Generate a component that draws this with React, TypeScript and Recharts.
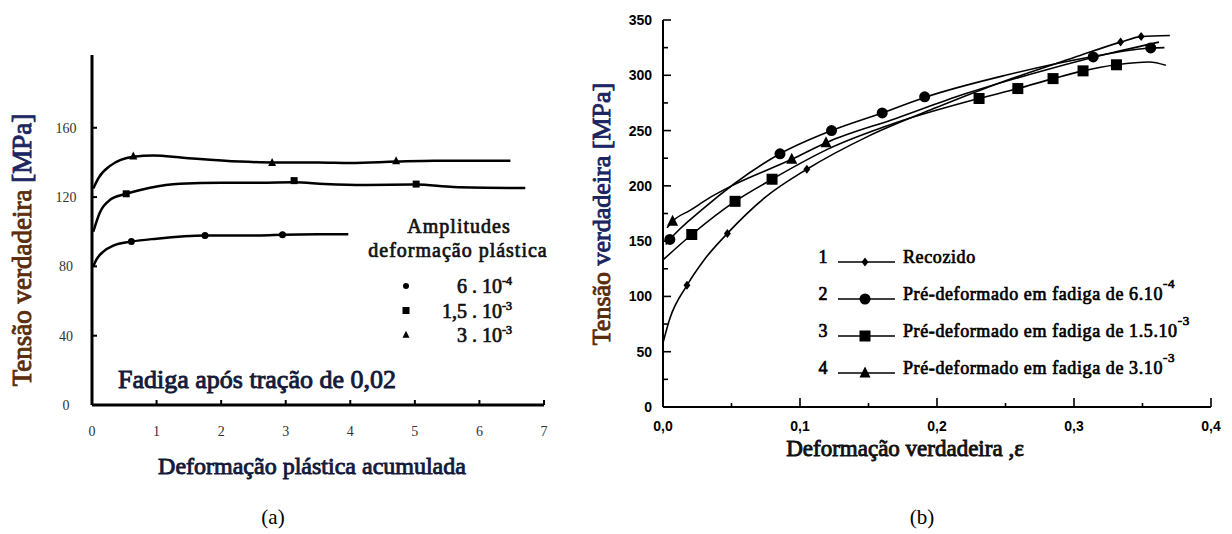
import { ComposedChart, Line, Scatter, XAxis, YAxis } from 'recharts';

const SERIF = "'Liberation Serif', 'Times New Roman', serif";
const SANS = "'Liberation Sans', Arial, sans-serif";

// ---- painel (a): fadiga após tração ----
const aXTicks = [0, 1, 2, 3, 4, 5, 6, 7];
const aYTicks = [0, 40, 80, 120, 160];

const aCurve6e4 = [
  { x: 0.02, y: 80 }, { x: 0.07, y: 84 }, { x: 0.17, y: 88.4 }, { x: 0.33, y: 92 },
  { x: 0.61, y: 94.3 }, { x: 1.0, y: 96 }, { x: 1.75, y: 97.8 }, { x: 2.4, y: 97.8 },
  { x: 2.95, y: 98.2 }, { x: 3.5, y: 98.5 }, { x: 3.97, y: 98.6 },
];
const aCurve15e3 = [
  { x: 0.02, y: 100 }, { x: 0.12, y: 111 }, { x: 0.28, y: 118.4 }, { x: 0.53, y: 121.9 },
  { x: 0.9, y: 125.4 }, { x: 1.36, y: 127.7 }, { x: 2.0, y: 128.3 }, { x: 2.6, y: 128.3 },
  { x: 3.13, y: 128.5 }, { x: 3.6, y: 127.6 }, { x: 4.2, y: 127 }, { x: 5.02, y: 127.2 },
  { x: 5.6, y: 125.8 }, { x: 6.71, y: 125.2 },
];
const aCurve3e3 = [
  { x: 0.02, y: 125 }, { x: 0.1, y: 131 }, { x: 0.28, y: 138 }, { x: 0.64, y: 143.3 },
  { x: 0.95, y: 144 }, { x: 1.41, y: 142.7 }, { x: 2.29, y: 140.5 }, { x: 2.79, y: 140 },
  { x: 3.5, y: 140 }, { x: 4.0, y: 139.7 }, { x: 4.71, y: 140.5 }, { x: 5.3, y: 141 },
  { x: 6.48, y: 141 },
];
const aMarks6e4 = [{ x: 0.61, y: 94.3 }, { x: 1.75, y: 97.8 }, { x: 2.95, y: 98.2 }];
const aMarks15e3 = [{ x: 0.53, y: 121.9 }, { x: 3.13, y: 129.5 }, { x: 5.02, y: 127.5 }];
const aMarks3e3 = [{ x: 0.64, y: 143.5 }, { x: 2.79, y: 139.8 }, { x: 4.71, y: 140.8 }];

// ---- painel (b): tensão x deformação verdadeira ----
const bXTicks = [0, 0.05, 0.1, 0.15, 0.2, 0.25, 0.3, 0.35, 0.4];
const bYTicks = [0, 25, 50, 75, 100, 125, 150, 175, 200, 225, 250, 275, 300, 325, 350];

const bCurveRecozido = [
  { x: 0, y: 58 }, { x: 0.005, y: 80 }, { x: 0.0175, y: 110 }, { x: 0.03, y: 133 },
  { x: 0.047, y: 157 }, { x: 0.075, y: 190 }, { x: 0.105, y: 215 }, { x: 0.15, y: 245 },
  { x: 0.2, y: 271 }, { x: 0.25, y: 295 }, { x: 0.3, y: 316 }, { x: 0.334, y: 330 },
  { x: 0.349, y: 335 }, { x: 0.37, y: 336 },
];
const bCurve6e4 = [
  { x: 0.002, y: 147 }, { x: 0.005, y: 151.5 }, { x: 0.03, y: 180 }, { x: 0.0854, y: 229 },
  { x: 0.123, y: 250 }, { x: 0.16, y: 266 }, { x: 0.191, y: 280 }, { x: 0.25, y: 300 },
  { x: 0.314, y: 317 }, { x: 0.356, y: 324.7 }, { x: 0.366, y: 325 },
];
const bCurve15e3 = [
  { x: 0, y: 133 }, { x: 0.021, y: 156 }, { x: 0.0526, y: 186 }, { x: 0.0796, y: 206 },
  { x: 0.12, y: 233 }, { x: 0.17, y: 257 }, { x: 0.2307, y: 279 }, { x: 0.259, y: 288 },
  { x: 0.2847, y: 297 }, { x: 0.3066, y: 304 }, { x: 0.331, y: 309.5 }, { x: 0.355, y: 312 },
  { x: 0.367, y: 309 },
];
const bCurve3e3 = [
  { x: 0.003, y: 162 }, { x: 0.007, y: 168 }, { x: 0.02, y: 178 }, { x: 0.035, y: 190 },
  { x: 0.05, y: 200 }, { x: 0.094, y: 224 }, { x: 0.119, y: 239 }, { x: 0.17, y: 261 },
  { x: 0.22, y: 283 }, { x: 0.28, y: 305 }, { x: 0.33, y: 321 }, { x: 0.362, y: 330 },
];
const bMarksRecozido = [
  { x: 0.0175, y: 110 }, { x: 0.047, y: 157 }, { x: 0.105, y: 215 }, { x: 0.334, y: 330 }, { x: 0.349, y: 335 },
];
const bMarks6e4 = [
  { x: 0.005, y: 151.5 }, { x: 0.0854, y: 229 }, { x: 0.123, y: 250 }, { x: 0.16, y: 266 },
  { x: 0.191, y: 280.5 }, { x: 0.314, y: 316.6 }, { x: 0.356, y: 324.7 },
];
const bMarks15e3 = [
  { x: 0.021, y: 156 }, { x: 0.0526, y: 186 }, { x: 0.0796, y: 206 }, { x: 0.2307, y: 279 },
  { x: 0.259, y: 288 }, { x: 0.2847, y: 297 }, { x: 0.3066, y: 304 }, { x: 0.331, y: 309.5 },
];
const bMarks3e3 = [{ x: 0.007, y: 168 }, { x: 0.094, y: 224 }, { x: 0.119, y: 239 }];

const legendB = [
  { n: '1', kind: 'diamond', text: 'Recozido', sup: '' },
  { n: '2', kind: 'circle', text: 'Pré-deformado em fadiga de 6.10', sup: '-4' },
  { n: '3', kind: 'square', text: 'Pré-deformado em fadiga de 1.5.10', sup: '-3' },
  { n: '4', kind: 'triangle', text: 'Pré-deformado em fadiga de 3.10', sup: '-3' },
];

const legendA = [
  { kind: 'circle', main: '6 . 10', sup: '-4' },
  { kind: 'square', main: '1,5 . 10', sup: '-3' },
  { kind: 'triangle', main: '3 . 10', sup: '-3' },
];

function marker(kind: string, cx: number, cy: number, s: number) {
  if (kind === 'circle') return <circle cx={cx} cy={cy} r={s / 2} fill="#000" />;
  if (kind === 'square')
    return <rect x={cx - s / 2} y={cy - s / 2} width={s} height={s} fill="#000" />;
  if (kind === 'triangle')
    return (
      <polygon
        points={`${cx},${cy - s * 0.6} ${cx - s / 2},${cy + s * 0.4} ${cx + s / 2},${cy + s * 0.4}`}
        fill="#000"
      />
    );
  return (
    <polygon
      points={`${cx},${cy - s / 2} ${cx + s / 2.6},${cy} ${cx},${cy + s / 2} ${cx - s / 2.6},${cy}`}
      fill="#000"
    />
  );
}

const shape = (kind: string, s: number) => (p: any) =>
  p.cx == null || p.cy == null ? <g /> : marker(kind, p.cx, p.cy, s);

// negrito "sintético": Times regular com contorno da mesma cor
const bold = (color: string, w = 0.8) => ({
  fill: color,
  stroke: color,
  strokeWidth: w,
  fontFamily: SERIF,
});

// ticks para dentro, como no original
const ATickY = (p: any) => {
  const { x, y, payload } = p;
  return (
    <g>
      <line x1={x + 26} x2={x + 31} y1={y} y2={y} stroke="#000" strokeWidth={2} />
      <text x={x} y={y + 5} textAnchor="middle" fontFamily={SERIF} fontSize={14} fill="#333">
        {payload.value}
      </text>
    </g>
  );
};
const ATickX = (p: any) => {
  const { x, y, payload } = p;
  return (
    <g>
      <line x1={x} x2={x} y1={y - 26} y2={y - 31} stroke="#000" strokeWidth={2} />
      <text x={x} y={y + 5} textAnchor="middle" fontFamily={SERIF} fontSize={14} fill="#333">
        {payload.value}
      </text>
    </g>
  );
};
const BTickY = (p: any) => {
  const { x, y, payload } = p;
  const major = payload.value % 50 === 0;
  return (
    <g>
      <line x1={x + 11} x2={x + 11 + (major ? 8 : 5)} y1={y} y2={y} stroke="#000" strokeWidth={1.6} />
      {major && (
        <text x={x} y={y + 5} textAnchor="end" fontFamily={SANS} fontWeight="bold" fontSize={14} fill="#000">
          {payload.value}
        </text>
      )}
    </g>
  );
};
const BTickX = (p: any) => {
  const { x, y, payload } = p;
  const v = payload.value as number;
  const major = Math.abs(v * 10 - Math.round(v * 10)) < 1e-6;
  return (
    <g>
      <line x1={x} x2={x} y1={y - 19} y2={y - 19 - (major ? 9 : 4)} stroke="#000" strokeWidth={1.6} />
      {major && (
        <text x={x} y={y + 5} textAnchor="middle" fontFamily={SANS} fontWeight="bold" fontSize={14} fill="#000">
          {v.toFixed(1).replace('.', ',')}
        </text>
      )}
    </g>
  );
};

function PanelA() {
  return (
    <ComposedChart width={600} height={534} margin={{ top: 55, left: 52, right: 56, bottom: 99 }}>
      <XAxis
        type="number"
        dataKey="x"
        domain={[0, 7]}
        ticks={aXTicks}
        interval={0}
        height={30}
        tickSize={0}
        tickMargin={26}
        tickLine={false}
        axisLine={{ stroke: '#000', strokeWidth: 3 }}
        tick={ATickX}
        allowDataOverflow
      />
      <YAxis
        type="number"
        dataKey="y"
        domain={[0, 202]}
        ticks={aYTicks}
        interval={0}
        width={40}
        tickSize={0}
        tickMargin={26}
        tickLine={false}
        axisLine={{ stroke: '#000', strokeWidth: 3 }}
        tick={ATickY}
        allowDataOverflow
      />
      <Line data={aCurve6e4} dataKey="y" type="monotone" stroke="#000" strokeWidth={2.5} dot={false} isAnimationActive={false} />
      <Line data={aCurve15e3} dataKey="y" type="monotone" stroke="#000" strokeWidth={2.5} dot={false} isAnimationActive={false} />
      <Line data={aCurve3e3} dataKey="y" type="monotone" stroke="#000" strokeWidth={2.5} dot={false} isAnimationActive={false} />
      <Scatter data={aMarks6e4} dataKey="y" shape={shape('circle', 7)} isAnimationActive={false} />
      <Scatter data={aMarks15e3} dataKey="y" shape={shape('square', 7)} isAnimationActive={false} />
      <Scatter data={aMarks3e3} dataKey="y" shape={shape('triangle', 8)} isAnimationActive={false} />
    </ComposedChart>
  );
}

function PanelB() {
  return (
    <ComposedChart width={632} height={534} margin={{ top: 20, left: 23, right: 21, bottom: 97 }}>
      <XAxis
        type="number"
        dataKey="x"
        domain={[0, 0.4]}
        ticks={bXTicks}
        interval={0}
        height={30}
        tickSize={0}
        tickMargin={19}
        tickLine={false}
        axisLine={{ stroke: '#000', strokeWidth: 2 }}
        tick={BTickX}
        allowDataOverflow
      />
      <YAxis
        type="number"
        dataKey="y"
        domain={[0, 350]}
        ticks={bYTicks}
        interval={0}
        width={40}
        tickSize={0}
        tickMargin={11}
        tickLine={false}
        axisLine={{ stroke: '#000', strokeWidth: 2 }}
        tick={BTickY}
        allowDataOverflow
      />
      <Line data={bCurveRecozido} dataKey="y" type="monotone" stroke="#000" strokeWidth={1.6} dot={false} isAnimationActive={false} />
      <Line data={bCurve6e4} dataKey="y" type="monotone" stroke="#000" strokeWidth={1.6} dot={false} isAnimationActive={false} />
      <Line data={bCurve15e3} dataKey="y" type="monotone" stroke="#000" strokeWidth={1.6} dot={false} isAnimationActive={false} />
      <Line data={bCurve3e3} dataKey="y" type="monotone" stroke="#000" strokeWidth={1.6} dot={false} isAnimationActive={false} />
      <Scatter data={bMarksRecozido} dataKey="y" shape={shape('diamond', 9)} isAnimationActive={false} />
      <Scatter data={bMarks6e4} dataKey="y" shape={shape('circle', 11)} isAnimationActive={false} />
      <Scatter data={bMarks15e3} dataKey="y" shape={shape('square', 11)} isAnimationActive={false} />
      <Scatter data={bMarks3e3} dataKey="y" shape={shape('triangle', 11)} isAnimationActive={false} />
    </ComposedChart>
  );
}

function Texts() {
  const brown = '#5a2d0c';
  const navy = '#1b2560';
  const ink = '#14193a';
  return (
    <svg width={1232} height={534} style={{ position: 'absolute', left: 0, top: 0, pointerEvents: 'none' }}>
      {/* (a) */}
      <text transform="translate(31,250) rotate(-90)" textAnchor="middle" fontSize={27} fontFamily={SERIF}>
        <tspan {...bold(brown, 0.9)}>Tensão verdadeira </tspan>
        <tspan {...bold(navy, 0.9)}>[MPa]</tspan>
      </text>
      <text x={312} y={474} textAnchor="middle" fontSize={24} {...bold(ink, 0.9)}>
        Deformação plástica acumulada
      </text>
      <text x={118} y={388} fontSize={26} {...bold(ink, 0.9)}>
        Fadiga após tração de 0,02
      </text>
      <text x={459} y={233} textAnchor="middle" fontSize={20} letterSpacing={1} {...bold('#111', 0.7)}>
        Amplitudes
      </text>
      <text x={458} y={257} textAnchor="middle" fontSize={20} letterSpacing={1} {...bold('#111', 0.7)}>
        deformação plástica
      </text>
      {legendA.map((r, i) => {
        const cy = 286 + i * 24.5;
        return (
          <g key={r.main}>
            {marker(r.kind, 406, cy, r.kind === 'circle' ? 6 : 7)}
            <text x={512} y={cy + 7} textAnchor="end" fontSize={20} {...bold('#111', 0.7)}>
              {r.main}
              <tspan fontSize={12} dy={-8}>{r.sup}</tspan>
            </text>
          </g>
        );
      })}
      <text x={273} y={524} textAnchor="middle" fontFamily={SERIF} fontSize={21} fill="#000">(a)</text>

      {/* (b) */}
      <text transform="translate(610,214) rotate(-90)" textAnchor="middle" fontSize={26} fontFamily={SERIF}>
        <tspan {...bold(brown, 0.9)}>Tensão </tspan>
        <tspan {...bold(navy, 0.9)}>verdadeira [MPa]</tspan>
      </text>
      <text x={905} y={456} textAnchor="middle" fontSize={23} {...bold('#111', 0.9)}>
        Deformação verdadeira ,ε
      </text>
      {legendB.map((r, i) => {
        const cy = 257 + i * 37;
        return (
          <g key={r.n}>
            <text x={823} y={cy + 6} textAnchor="middle" fontSize={18} {...bold('#000', 0.7)}>
              {r.n}
            </text>
            <line x1={838} x2={895} y1={cy + 5} y2={cy + 5} stroke="#000" strokeWidth={1.4} />
            {marker(r.kind, 865, cy + 5, r.kind === 'diamond' ? 9 : 11)}
            <text x={903} y={cy + 6} fontSize={18} letterSpacing={0.6} {...bold('#000', 0.7)}>
              {r.text}
              {r.sup && <tspan fontSize={13} dy={-12}>{r.sup}</tspan>}
            </text>
          </g>
        );
      })}
      <text x={922} y={524} textAnchor="middle" fontFamily={SERIF} fontSize={21} fill="#000">(b)</text>
    </svg>
  );
}

export default function App() {
  return (
    <div style={{ position: 'absolute', left: 0, top: 0, width: 1232, height: 534, background: '#fff' }}>
      <div style={{ position: 'absolute', left: 0, top: 0 }}>
        <PanelA />
      </div>
      <div style={{ position: 'absolute', left: 600, top: 0 }}>
        <PanelB />
      </div>
      <Texts />
    </div>
  );
}
